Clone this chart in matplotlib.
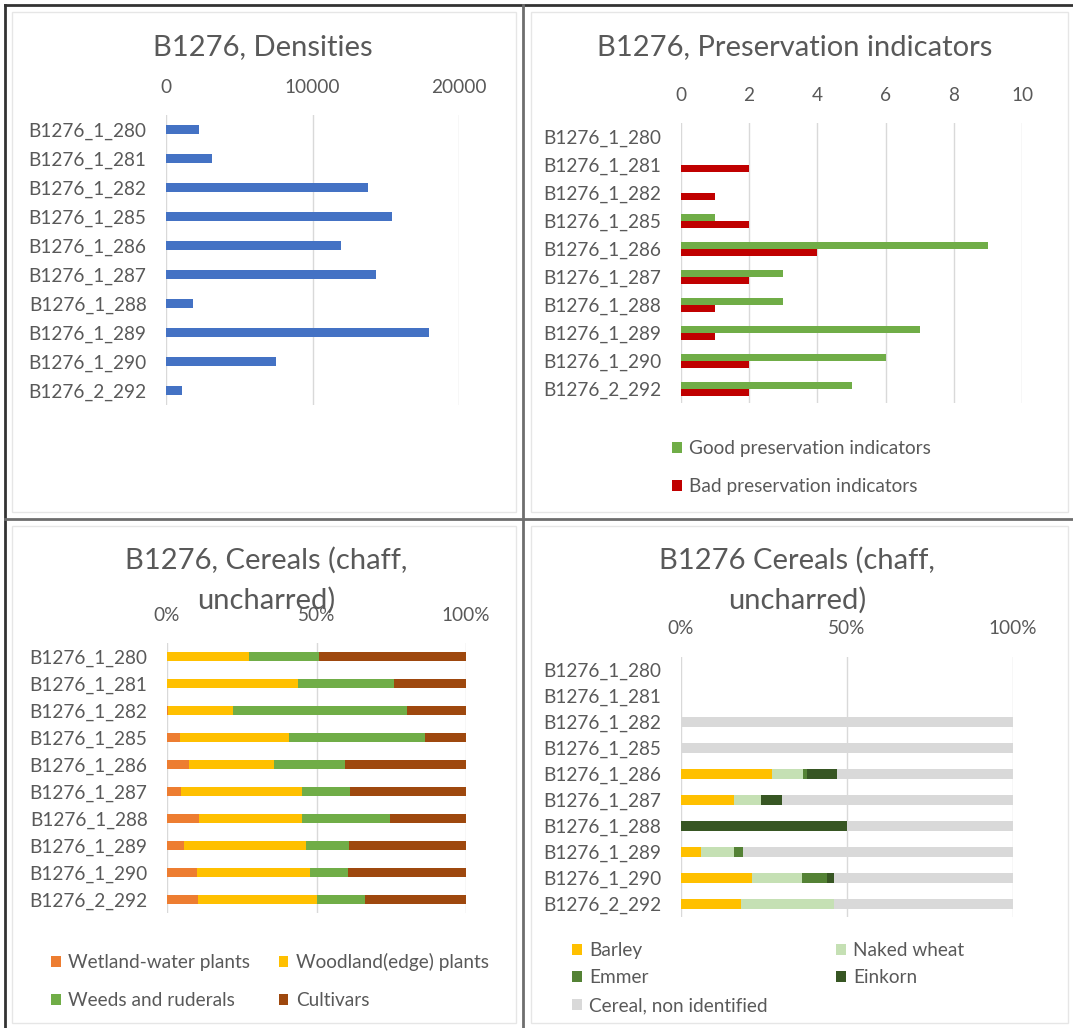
import matplotlib.pyplot as plt
from matplotlib.patches import Rectangle
from matplotlib.lines import Line2D

plt.rcParams['font.family'] = ['Lato', 'DejaVu Sans']

W, H = 1073, 1028
GREY_TXT = '#595959'
GRID = '#D9D9D9'
FS = 13.7

samples = ['B1276_1_280', 'B1276_1_281', 'B1276_1_282', 'B1276_1_285', 'B1276_1_286',
           'B1276_1_287', 'B1276_1_288', 'B1276_1_289', 'B1276_1_290', 'B1276_2_292']

# densities per sample
densities = [2230, 3140, 13810, 15430, 11950, 14330, 1870, 17980, 7510, 1110]

# preservation indicator counts
good_pres = [0, 0, 0, 1, 9, 3, 3, 7, 6, 5]
bad_pres = [0, 2, 1, 2, 4, 2, 1, 1, 2, 2]

# ecological groups (% of total)
wetland = [0, 0, 0.5, 4.3, 7.2, 4.7, 10.8, 5.6, 9.9, 10.5]
woodland = [27.5, 43.9, 21.6, 36.5, 28.7, 40.6, 34.5, 40.9, 37.9, 39.8]
weeds = [23.3, 32.1, 58.3, 45.6, 23.6, 15.9, 29.4, 14.4, 12.6, 15.9]
cultivars = [49.2, 24.0, 19.6, 13.6, 40.5, 38.8, 25.3, 39.1, 39.6, 33.8]

# cereal chaff composition (% of total)
barley = [0, 0, 0, 0, 27.5, 16.1, 0, 6.1, 21.6, 18.3]
naked_wheat = [0, 0, 0, 0, 9.2, 8.0, 0, 9.9, 14.8, 27.9]
emmer = [0, 0, 0, 0, 1.2, 0, 0, 2.7, 7.6, 0]
einkorn = [0, 0, 0, 0, 9.3, 6.5, 50.0, 0, 2.2, 0]
cereal_nonid = [0, 0, 100, 100, 52.8, 69.4, 50.0, 81.3, 53.8, 53.8]

fig = plt.figure(figsize=(W / 100, H / 100), dpi=100)


def px_axes(x0, y0, x1, y1):
    return fig.add_axes([x0 / W, 1 - y1 / H, (x1 - x0) / W, (y1 - y0) / H])


def fx(x):
    return x / W


def fy(y):
    return 1 - y / H


def style(ax, xlim, xticks, xticklabels):
    ax.set_xlim(*xlim)
    ax.set_ylim(len(samples) - 0.5, -0.5)
    ax.set_xticks(xticks)
    ax.set_xticklabels(xticklabels)
    ax.set_yticks(range(len(samples)))
    ax.set_yticklabels(samples)
    ax.xaxis.tick_top()
    ax.tick_params(length=0, labelsize=FS, colors=GREY_TXT)
    ax.tick_params(axis='x', pad=14)
    ax.tick_params(axis='y', pad=14)
    for s in ax.spines.values():
        s.set_visible(False)
    ax.grid(axis='x', color=GRID, lw=1)
    ax.set_axisbelow(True)


legend_kw = dict(loc='upper left', bbox_transform=fig.transFigure, frameon=False,
                 fontsize=FS, labelcolor=GREY_TXT, handlelength=0.5,
                 handleheight=0.5, handletextpad=0.4, borderpad=0, borderaxespad=0)

# frames around the four charts
for (x0, y0, x1, y1) in [(12, 12, 516, 512), (531, 12, 1068, 512),
                         (12, 526, 516, 1023), (531, 526, 1068, 1023)]:
    fig.patches.append(Rectangle((fx(x0), fy(y1)), fx(x1 - x0), (y1 - y0) / H,
                                 transform=fig.transFigure, fill=False,
                                 ec='#E6E6E6', lw=1))
for xs, ys, c in [([5, 1073], [5, 5], '#333333'), ([5, 5], [5, 1028], '#333333'),
                  ([523, 523], [5, 1028], '#6E6E6E'), ([5, 1073], [519, 519], '#6E6E6E')]:
    fig.add_artist(Line2D([fx(x) for x in xs], [fy(y) for y in ys],
                          transform=fig.transFigure, color=c, lw=2))

title_kw = dict(ha='center', va='center', fontsize=21, color=GREY_TXT)

# Densities
ax1 = px_axes(166, 115, 459, 405)
ax1.barh(range(len(samples)), densities, height=0.34, color='#4472C4')
style(ax1, (0, 20000), [0, 10000, 20000], ['0', '10000', '20000'])
fig.text(fx(263), fy(47), 'B1276, Densities', **title_kw)

# Preservation indicators
ax2 = px_axes(680.7, 123, 1022.3, 403)
pos = list(range(len(samples)))
ax2.barh([p - 0.13 for p in pos], good_pres, height=0.26, color='#70AD47',
         label='Good preservation indicators')
ax2.barh([p + 0.13 for p in pos], bad_pres, height=0.26, color='#C00000',
         label='Bad preservation indicators')
style(ax2, (0, 10), range(0, 11, 2), [str(v) for v in range(0, 11, 2)])
fig.text(fx(795), fy(47), 'B1276, Preservation indicators', **title_kw)
ax2.legend(bbox_to_anchor=(fx(672), fy(440)), labelspacing=1.1, **legend_kw)

# Ecological groups
ax3 = px_axes(167, 643, 466, 913)
left = [0] * len(samples)
eco = [(wetland, '#ED7D31', 'Wetland-water plants'),
       (woodland, '#FFC000', 'Woodland(edge) plants'),
       (weeds, '#70AD47', 'Weeds and ruderals'),
       (cultivars, '#9E480E', 'Cultivars')]
bars3 = {}
for vals, col, lab in eco:
    bars3[lab] = ax3.barh(range(len(samples)), vals, left=left, height=0.37,
                          color=col, label=lab)
    left = [a + b for a, b in zip(left, vals)]
style(ax3, (0, 100), [0, 50, 100], ['0%', '50%', '100%'])
fig.text(fx(266), fy(560), 'B1276, Cereals (chaff,', **title_kw)
fig.text(fx(266), fy(600), 'uncharred)', **title_kw)
order3 = ['Wetland-water plants', 'Weeds and ruderals', 'Woodland(edge) plants', 'Cultivars']
ax3.legend([bars3[k] for k in order3], order3, ncol=2,
           bbox_to_anchor=(fx(51), fy(953)), labelspacing=1.1,
           columnspacing=1.5, **legend_kw)

# Cereal chaff composition
ax4 = px_axes(680.7, 656.7, 1012.7, 916.7)
left = [0] * len(samples)
cer = [(barley, '#FFC000', 'Barley'),
       (naked_wheat, '#C5E0B4', 'Naked wheat'),
       (emmer, '#548235', 'Emmer'),
       (einkorn, '#375623', 'Einkorn'),
       (cereal_nonid, '#D9D9D9', 'Cereal, non identified')]
bars4 = {}
for vals, col, lab in cer:
    bars4[lab] = ax4.barh(range(len(samples)), vals, left=left, height=0.38,
                          color=col, label=lab)
    left = [a + b for a, b in zip(left, vals)]
style(ax4, (0, 100), [0, 50, 100], ['0%', '50%', '100%'])
fig.text(fx(797), fy(560), 'B1276 Cereals (chaff,', **title_kw)
fig.text(fx(797), fy(600), 'uncharred)', **title_kw)
order4 = ['Barley', 'Emmer', 'Cereal, non identified', 'Naked wheat', 'Einkorn']
ax4.legend([bars4[k] for k in order4], order4, ncol=2,
           bbox_to_anchor=(fx(572), fy(942)), labelspacing=0.55,
           columnspacing=3.6, **legend_kw)

fig.savefig('out.png', dpi=100)
